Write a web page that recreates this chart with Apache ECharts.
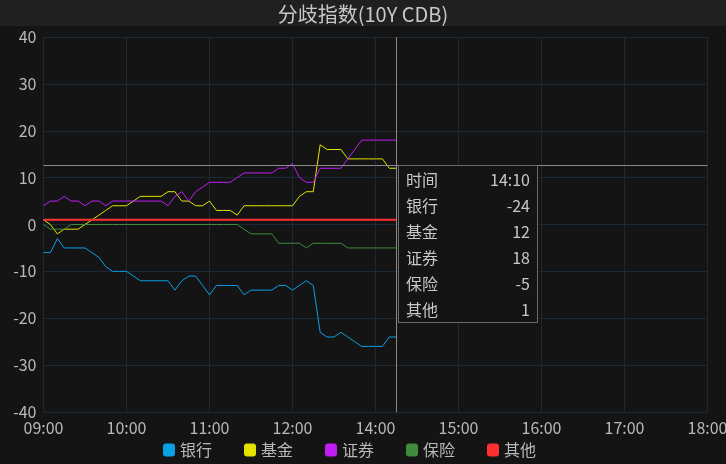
<!DOCTYPE html>
<html>
<head>
<meta charset="utf-8">
<title>分歧指数</title>
<script src="https://cdn.jsdelivr.net/npm/echarts@6/dist/echarts.min.js"></script>
<style>
    html, body { margin: 0; padding: 0; background: #141414; }
    #main { width: 726px; height: 464px; }
</style>
</head>
<body>
<div id="main"></div>
<script>
// 横轴刻度（午休 12:00-13:00 不显示）
var tickLabels = ['09:00','10:00','11:00','12:00','14:00','15:00','16:00','17:00','18:00'];
var yTicks = { min: -40, max: 40, step: 10 };

// 各机构分歧指数, 5分钟一个点, 09:00 起
var bank = [-6,-6,-3,-5,-5,-5,-5,-6,-7,-9,-10,-10,-10,-11,-12,-12,-12,-12,-12,-14,-12,-11,-11,-13,-15,-13,
    -13,-13,-13,-15,-14,-14,-14,-14,-13,-13,-14,-13,-12,-13,-23,-24,-24,-23,-24,-25,-26,-26,-26,-26,-24,-24];
var fund = [1,0,-2,-1,-1,-1,0,1,2,3,4,4,4,5,6,6,6,6,7,7,5,5,4,4,5,3,
    3,3,2,4,4,4,4,4,4,4,4,6,7,7,17,16,16,16,14,14,14,14,14,14,12,12];
var broker = [4,5,5,6,5,5,4,5,5,4,5,5,5,5,5,5,5,5,4,6,7,5,7,8,9,9,
    9,9,10,11,11,11,11,11,12,12,13,10,9,9,12,12,12,12,14,16,18,18,18,18,18,18];
var insur = [0,-1,-1,-1,0,0,0,0,0,0,0,0,0,0,0,0,0,0,0,0,0,0,0,0,0,0,
    0,0,0,-1,-2,-2,-2,-2,-4,-4,-4,-4,-5,-4,-4,-4,-4,-4,-5,-5,-5,-5,-5,-5,-5,-5];
var other = [1,1,1,1,1,1,1,1,1,1,1,1,1,1,1,1,1,1,1,1,1,1,1,1,1,1,
    1,1,1,1,1,1,1,1,1,1,1,1,1,1,1,1,1,1,1,1,1,1,1,1,1,1];

var names = ['银行','基金','证券','保险','其他'];
var colors = ['#0aa0e6','#e3e300','#c21cf5','#3e8c3c','#ff3030'];

// 时间点
function buildTimes() {
    var list = [];
    var sessions = [[9 * 60, 12 * 60], [13 * 60, 17 * 60 + 55]];
    for (var s = 0; s < sessions.length; s++) {
        for (var m = sessions[s][0]; m <= sessions[s][1]; m += 5) {
            var h = Math.floor(m / 60), mm = m % 60;
            list.push((h < 10 ? '0' + h : h) + ':' + (mm < 10 ? '0' + mm : mm));
        }
    }
    return list;
}
var times = buildTimes();

var lastIndex = bank.length - 1;
var pointerY = 12.7;

var gridColor = '#1b2935';
var textColor = '#b9b9b9';
var fontFamily = '"Microsoft YaHei","Noto Sans CJK SC",sans-serif';

var myChart = echarts.init(document.getElementById('main'));

var seriesData = [bank, fund, broker, insur, other];
var series = [];
for (var i = 0; i < names.length; i++) {
    series.push({
        name: names[i],
        type: 'line',
        data: seriesData[i],
        symbol: 'none',
        lineStyle: { color: colors[i], width: i == 4 ? 2 : 1 },
        itemStyle: { color: colors[i] },
        emphasis: { disabled: true }
    });
}

var option = {
    backgroundColor: '#141414',
    animation: false,
    graphic: [{
        type: 'rect',
        left: 0, top: 0,
        shape: { width: 726, height: 26 },
        style: { fill: '#202020' },
        silent: true
    }],
    title: {
        text: '分歧指数(10Y CDB)',
        left: 'center',
        top: -1,
        textStyle: { color: '#c8c8c8', fontSize: 20, fontWeight: 'normal', fontFamily: fontFamily }
    },
    grid: { left: 43.5, right: 18.5, top: 37, bottom: 52, outerBoundsMode: 'none', containLabel: false },
    tooltip: {
        trigger: 'axis',
        triggerOn: 'none',
        alwaysShowContent: true,
        backgroundColor: '#141414',
        borderColor: '#6a6a6a',
        borderWidth: 1,
        padding: [0, 7],
        extraCssText: 'box-shadow:none;border-radius:0;',
        position: function (point) {
            return [point[0] + 2, point[1]];
        },
        axisPointer: {
            type: 'cross',
            label: { show: false },
            lineStyle: { color: '#8a8a8a', width: 1, type: 'solid' },
            crossStyle: { color: '#8a8a8a', width: 1, type: 'solid' }
        },
        formatter: function (params) {
            var row = function (a, b) {
                return '<div style="display:flex;justify-content:space-between;width:124px;line-height:26px;">' +
                    '<span>' + a + '</span><span>' + b + '</span></div>';
            };
            var html = row('时间', params[0].axisValue);
            for (var k = 0; k < params.length; k++) {
                html += row(params[k].seriesName, params[k].value);
            }
            return '<div style="color:#c8c8c8;font-size:16px;font-family:' + fontFamily.replace(/"/g, "'") + ';">' + html + '</div>';
        }
    },
    legend: {
        bottom: 1,
        left: 158,
        icon: 'roundRect',
        itemWidth: 12,
        itemHeight: 13,
        itemGap: 32,
        selectedMode: false,
        data: names,
        textStyle: { color: textColor, fontSize: 16, fontFamily: fontFamily }
    },
    xAxis: {
        type: 'category',
        boundaryGap: false,
        data: times,
        axisLine: { show: true, lineStyle: { color: gridColor } },
        axisTick: { show: false },
        splitLine: { show: true, interval: 11, lineStyle: { color: gridColor } },
        axisLabel: {
            interval: 11,
            color: textColor,
            fontSize: 16,
            fontFamily: fontFamily,
            margin: 8,
            formatter: function (value, index) {
                return tickLabels[index / 12];
            }
        }
    },
    yAxis: {
        type: 'value',
        min: yTicks.min,
        max: yTicks.max,
        interval: yTicks.step,
        axisLine: { show: true, lineStyle: { color: gridColor } },
        axisTick: { show: false },
        splitLine: { show: true, lineStyle: { color: gridColor } },
        axisLabel: { color: textColor, fontSize: 16, fontFamily: fontFamily, margin: 7 }
    },
    series: series
};
myChart.setOption(option);

// 十字光标停在最后一个点
var p = myChart.convertToPixel({ gridIndex: 0 }, [times[lastIndex], pointerY]);
myChart.dispatchAction({ type: 'showTip', x: p[0], y: p[1] });
</script>
</body>
</html>
